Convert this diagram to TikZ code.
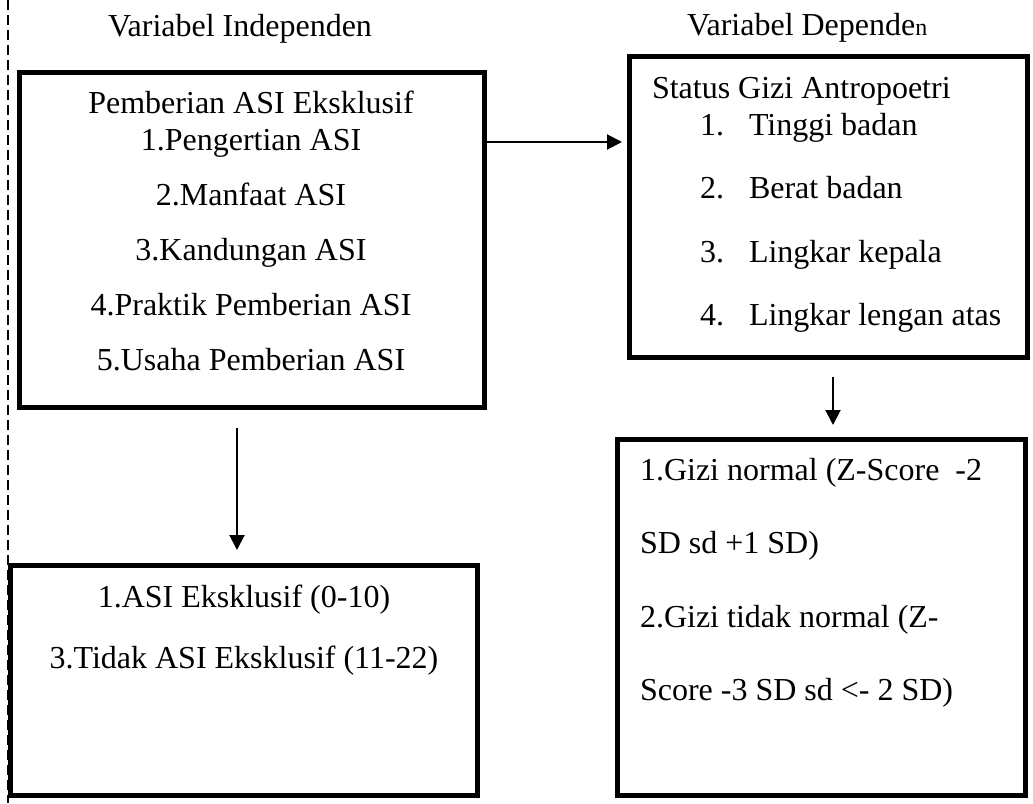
\documentclass[tikz,border=0pt]{standalone}
\usepackage{fontspec}
\setmainfont{Liberation Serif}
\usetikzlibrary{arrows.meta}
\begin{document}
\begin{tikzpicture}[x=1pt,y=-1pt,
  box/.style={draw,line width=5pt,inner sep=0pt,outer sep=0pt},
  txt/.style={inner sep=0pt,outer sep=0pt,font=\fontsize{32}{38}\selectfont},
  lt/.style={txt,anchor=base west},
  ct/.style={txt,anchor=base},
  arr/.style={line width=2pt,-{Triangle[length=15pt,width=15pt]}},
  dashline/.style={line width=1.5pt,dash pattern=on 10pt off 5pt}]
\useasboundingbox (0,0) rectangle (1033,803);

% left dashed margin line
\coordinate (d1) at (8,0);
\coordinate (d2) at (8,803);
\draw[dashline] (d1) -- (d2);

% headings
\node[ct] (hInd) at (240,36) {Variabel Independen};
\node[lt] (hDep) at (687,35) {Variabel Depende{\fontsize{24}{24}\selectfont n}};

% boxes
\node[box,minimum width=465pt,minimum height=335pt] (box1) at (252,240) {};
\node[box,minimum width=398pt,minimum height=301pt] (box2) at (828.5,207) {};
\node[box,minimum width=467pt,minimum height=230pt] (box3) at (244,680.5) {};
\node[box,minimum width=408pt,minimum height=356pt] (box4) at (821.5,617.5) {};

% box 1 text
\node[ct] (t10) at (251,113) {Pemberian ASI Eksklusif};
\node[ct] (t11) at (251,150) {1.Pengertian ASI};
\node[ct] (t12) at (251,205) {2.Manfaat ASI};
\node[ct] (t13) at (251,260) {3.Kandungan ASI};
\node[ct] (t14) at (251,315) {4.Praktik Pemberian ASI};
\node[ct] (t15) at (251,370) {5.Usaha Pemberian ASI};

% box 2 text
\node[lt] (t20) at (652,98) {Status Gizi Antropoetri};
\node[lt] (t21) at (700,135) {\makebox[49pt][l]{1.}Tinggi badan};
\node[lt] (t22) at (700,198) {\makebox[49pt][l]{2.}Berat badan};
\node[lt] (t23) at (700,262) {\makebox[49pt][l]{3.}Lingkar kepala};
\node[lt] (t24) at (700,325) {\makebox[49pt][l]{4.}Lingkar lengan atas};

% box 3 text
\node[ct] (t31) at (244,607) {1.ASI Eksklusif (0-10)};
\node[ct] (t32) at (244,668) {3.Tidak ASI Eksklusif (11-22)};

% box 4 text
\node[lt] (t41) at (640,480) {1.Gizi normal (Z-Score\ \ -2};
\node[lt] (t42) at (640,553) {SD sd +1 SD)};
\node[lt] (t43) at (640,627) {2.Gizi tidak normal (Z-};
\node[lt] (t44) at (640,700) {Score -3 SD sd <- 2 SD)};

% connectors
\coordinate (hA) at (487,142);
\coordinate (hB) at (622,142);
\draw[arr] (hA) -- (hB);
\coordinate (vA) at (237,428);
\coordinate (vB) at (237,550);
\draw[arr] (vA) -- (vB);
\coordinate (wA) at (833,377);
\coordinate (wB) at (833,425);
\draw[arr] (wA) -- (wB);
\end{tikzpicture}
\end{document}
